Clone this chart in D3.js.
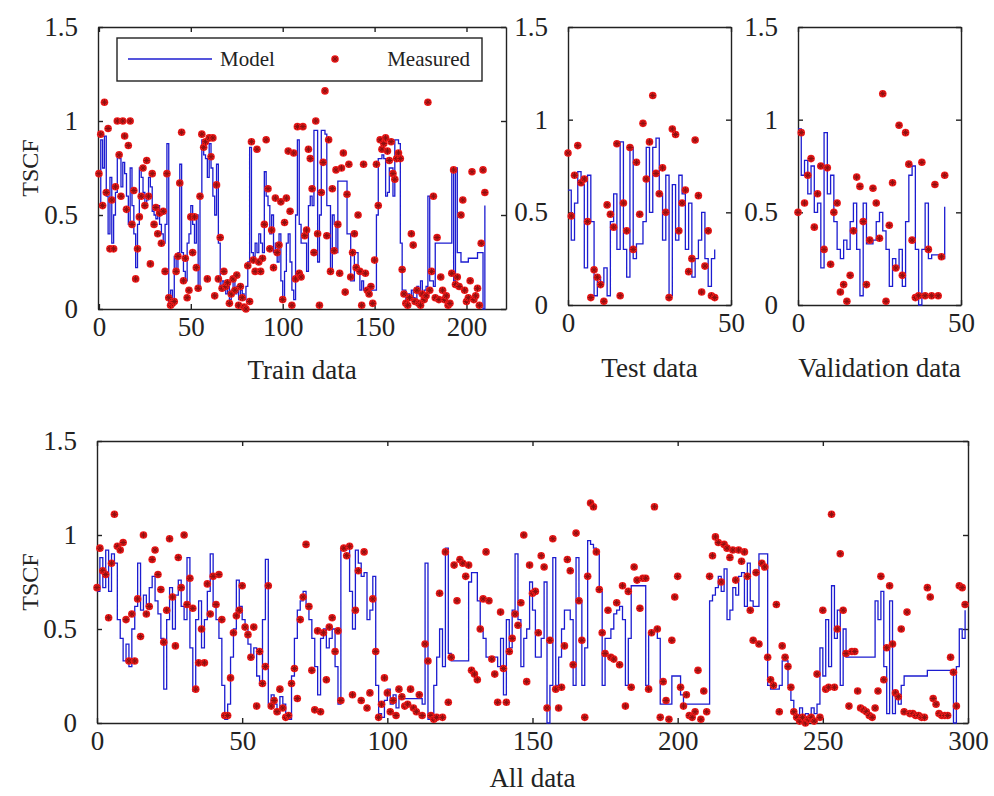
<!DOCTYPE html>
<html>
<head>
<meta charset="utf-8">
<script src="https://cdn.jsdelivr.net/npm/d3@7"></script>
<style>
  body { margin: 0; background: #fff; }
  svg { font-family: "Liberation Serif", "Times New Roman", serif; }
  .tick text { font-size: 27px; fill: #222; }
  .tick line, .domain { stroke: #222; stroke-width: 1.4px; }
</style>
</head>
<body>
<svg width="994" height="796"></svg>
<script>
// TSCF values
const trainModel = [0.55,0.90,0.75,0.92,0.60,0.40,0.70,0.35,0.50,0.62,
  0.82,0.80,0.65,0.78,0.72,0.60,0.45,0.75,0.55,0.40,
  0.22,0.45,0.75,0.70,0.62,0.55,0.58,0.70,0.65,0.52,
  0.50,0.48,0.55,0.45,0.40,0.35,0.45,0.88,0.03,0.10,
  0.05,0.28,0.20,0.30,0.77,0.30,0.20,0.15,0.35,0.40,
  0.55,0.45,0.35,0.50,0.10,0.60,0.90,0.82,0.80,0.70,
  0.88,0.75,0.60,0.50,0.77,0.35,0.10,0.15,0.12,0.08,
  0.12,0.05,0.10,0.15,0.08,0.12,0.05,0.10,0.08,0.05,
  0.12,0.25,0.86,0.30,0.28,0.35,0.30,0.40,0.35,0.30,
  0.73,0.60,0.55,0.40,0.50,0.30,0.35,0.25,0.40,0.15,
  0.05,0.20,0.35,0.40,0.25,0.10,0.05,0.50,0.90,0.45,
  0.35,0.35,0.35,0.20,0.55,0.60,0.55,0.95,0.95,0.25,
  0.50,0.95,0.95,0.93,0.55,0.55,0.20,0.50,0.45,0.30,
  0.68,0.68,0.68,0.68,0.68,0.40,0.40,0.15,0.15,0.30,
  0.30,0.20,0.10,0.15,0.10,0.10,0.10,0.10,0.10,0.10,
  0.10,0.50,0.80,0.80,0.82,0.80,0.60,0.62,0.75,0.75,
  0.60,0.90,0.90,0.88,0.35,0.10,0.10,0.05,0.08,0.05,
  0.10,0.06,0.05,0.12,0.08,0.15,0.05,0.10,0.12,0.60,
  0.15,0.15,0.12,0.35,0.35,0.35,0.35,0.35,0.35,0.35,
  0.35,0.35,0.75,0.15,0.75,0.30,0.30,0.25,0.25,0.25,
  0.25,0.27,0.27,0.27,0.27,0.27,0.30,0.30,0.30,0.00,
  0.55];
const trainMeasured = [0.72,0.93,0.55,1.10,0.62,0.96,0.32,0.58,0.32,0.65,
  1.00,0.82,0.60,1.00,0.92,0.53,0.87,1.00,0.45,0.63,
  0.16,0.32,0.49,0.60,0.75,0.55,0.79,0.60,0.24,0.72,
  0.45,0.54,0.40,0.51,0.35,0.52,0.20,0.72,0.06,0.02,
  0.03,0.04,0.20,0.28,0.67,0.94,0.15,0.27,0.06,0.10,
  0.49,0.30,0.49,0.22,0.11,0.60,0.93,0.86,0.89,0.16,
  0.91,0.81,0.91,0.07,0.66,0.16,0.38,0.11,0.20,0.12,
  0.14,0.03,0.08,0.16,0.10,0.18,0.02,0.12,0.06,0.01,
  0.00,0.23,0.04,0.89,0.26,0.20,0.85,0.25,0.20,0.27,
  0.45,0.90,0.64,0.32,0.42,0.22,0.59,0.30,0.34,0.57,
  0.05,0.46,0.59,0.84,0.52,0.02,0.83,0.16,0.97,0.19,
  0.17,0.97,0.39,0.42,0.85,0.80,0.64,0.30,1.00,0.40,
  0.02,0.62,0.78,1.16,0.39,0.90,0.20,0.64,0.31,0.74,
  0.45,0.19,0.75,0.83,0.09,0.61,0.77,0.17,0.30,0.40,
  0.22,0.50,0.20,0.02,0.77,0.19,0.10,0.08,0.12,0.03,
  0.26,0.77,0.55,0.90,0.85,0.88,0.91,0.84,0.79,0.89,
  0.72,0.69,0.80,0.83,0.80,0.21,0.08,0.03,0.02,0.06,
  0.40,0.34,0.04,0.10,0.03,0.02,0.08,0.05,0.07,1.10,
  0.10,0.20,0.60,0.06,0.38,0.05,0.17,0.10,0.05,0.07,
  0.02,0.03,0.19,0.74,0.13,0.17,0.12,0.50,0.58,0.10,
  0.04,0.06,0.15,0.73,0.05,0.07,0.11,0.02,0.35,0.74,
  0.62];

const testModel = [0.62,0.35,0.55,0.72,0.65,0.20,0.70,0.45,0.05,0.15,
  0.12,0.20,0.05,0.45,0.60,0.30,0.88,0.30,0.15,0.85,
  0.25,0.33,0.33,0.45,0.85,0.50,0.85,0.90,0.60,0.35,
  0.70,0.05,0.65,0.35,0.70,0.60,0.30,0.55,0.15,0.25,
  0.35,0.50,0.25,0.10,0.25,0.30];
const testMeasured = [0.82,0.48,0.70,0.86,0.66,0.68,0.45,0.04,0.19,0.15,
  0.11,0.02,0.54,0.49,0.42,0.87,0.05,0.55,0.40,0.85,
  0.30,0.77,0.49,0.98,0.68,0.88,1.13,0.71,0.60,0.74,
  0.50,0.04,0.95,0.92,0.40,0.55,0.62,0.18,0.25,0.89,
  0.59,0.07,0.21,0.40,0.05,0.04];

const valModel = [0.95,0.70,0.78,0.60,0.75,0.50,0.55,0.20,0.93,0.60,
  0.70,0.45,0.30,0.25,0.35,0.30,0.45,0.55,0.30,0.05,
  0.55,0.33,0.33,0.35,0.45,0.50,0.40,0.30,0.10,0.25,
  0.20,0.30,0.10,0.45,0.70,0.75,0.30,0.00,0.30,0.55,
  0.25,0.27,0.27,0.27,0.25,0.53];
const valMeasured = [0.50,0.93,0.55,0.70,0.79,0.42,0.60,0.75,0.30,0.74,
  0.22,0.50,0.55,0.07,0.11,0.02,0.16,0.40,0.69,0.64,
  0.45,0.11,0.35,0.63,0.55,0.36,1.14,0.02,0.43,0.66,
  0.20,0.97,0.16,0.93,0.76,0.35,0.04,0.05,0.77,0.05,
  0.30,0.05,0.65,0.05,0.26,0.70];

const allModel = [0.70,0.88,0.72,0.92,0.70,0.90,0.85,0.55,0.45,0.33,
  0.42,0.30,0.50,0.62,0.85,0.60,0.68,0.62,0.72,0.78,
  0.65,0.58,0.45,0.18,0.55,0.72,0.50,0.68,0.76,0.62,
  0.55,0.88,0.40,0.17,0.55,0.65,0.40,0.55,0.70,0.90,
  0.62,0.55,0.45,0.20,0.02,0.10,0.35,0.50,0.76,0.62,
  0.55,0.50,0.42,0.35,0.40,0.25,0.20,0.55,0.87,0.10,
  0.15,0.10,0.05,0.14,0.10,0.05,0.02,0.25,0.45,0.60,
  0.65,0.70,0.62,0.55,0.45,0.30,0.15,0.45,0.50,0.40,
  0.45,0.50,0.30,0.10,0.93,0.92,0.93,0.70,0.50,0.92,
  0.85,0.78,0.80,0.55,0.60,0.78,0.20,0.05,0.03,0.12,
  0.18,0.10,0.15,0.08,0.13,0.13,0.13,0.13,0.13,0.13,
  0.13,0.13,0.10,0.85,0.02,0.02,0.20,0.35,0.50,0.30,
  0.93,0.37,0.33,0.33,0.33,0.33,0.33,0.33,0.75,0.80,
  0.80,0.65,0.50,0.45,0.35,0.35,0.35,0.35,0.30,0.45,
  0.15,0.55,0.40,0.60,0.90,0.55,0.30,0.45,0.50,0.75,
  0.60,0.35,0.35,0.45,0.75,0.00,0.20,0.88,0.20,0.35,
  0.50,0.60,0.60,0.55,0.20,0.88,0.65,0.20,0.40,0.97,
  0.95,0.93,0.90,0.70,0.20,0.45,0.45,0.50,0.58,0.60,
  0.62,0.55,0.20,0.45,0.73,0.73,0.73,0.73,0.73,0.20,
  0.48,0.48,0.50,0.45,0.10,0.10,0.10,0.10,0.25,0.25,
  0.25,0.15,0.10,0.10,0.10,0.10,0.10,0.10,0.10,0.10,
  0.10,0.65,0.68,0.72,0.78,0.70,0.82,0.55,0.60,0.72,
  0.68,0.78,0.80,0.62,0.85,0.65,0.62,0.62,0.90,0.90,
  0.90,0.20,0.18,0.18,0.18,0.20,0.33,0.33,0.20,0.12,
  0.05,0.03,0.08,0.02,0.05,0.03,0.08,0.05,0.10,0.40,
  0.25,0.55,0.30,0.73,0.45,0.60,0.20,0.50,0.35,0.35,
  0.35,0.35,0.35,0.35,0.35,0.35,0.35,0.35,0.65,0.55,
  0.70,0.30,0.05,0.65,0.05,0.15,0.10,0.20,0.25,0.25,
  0.25,0.25,0.25,0.25,0.25,0.25,0.28,0.28,0.28,0.28,
  0.28,0.28,0.28,0.28,0.28,0.00,0.30,0.50,0.45,0.60];
const allMeasured = [0.72,0.93,0.81,0.79,0.56,0.85,1.11,0.94,0.92,0.96,
  0.55,0.33,0.58,0.33,0.66,0.46,1.00,0.58,0.62,0.87,
  0.92,0.79,0.71,0.43,0.60,0.98,0.67,0.41,0.88,0.72,
  1.00,0.63,0.77,0.61,0.18,0.32,0.50,0.32,0.74,0.58,
  0.78,0.63,0.79,0.55,0.04,0.04,0.24,0.48,0.57,0.60,
  0.73,0.51,0.47,0.35,0.51,0.09,0.38,0.21,0.30,0.73,
  0.09,0.12,0.06,0.18,0.08,0.03,0.04,0.21,0.29,0.13,
  0.55,0.67,0.95,0.62,0.28,0.07,0.49,0.06,0.48,0.23,
  0.51,0.56,0.38,0.49,0.12,0.93,0.89,0.94,0.15,0.60,
  0.81,0.12,0.91,0.08,0.16,0.66,0.38,0.03,0.10,0.24,
  0.16,0.06,0.12,0.04,0.18,0.14,0.09,0.10,0.18,0.08,
  0.06,0.15,0.04,0.42,0.33,0.04,0.02,0.03,0.69,0.03,
  0.91,0.11,0.35,0.84,0.65,0.87,0.85,0.78,0.84,0.28,
  0.26,0.23,0.50,0.66,0.91,0.65,0.34,0.26,0.11,0.59,
  0.29,0.11,0.38,0.45,0.58,0.52,0.64,1.00,0.22,0.84,
  0.69,0.70,0.48,0.89,0.83,0.08,0.44,0.98,0.18,0.08,
  0.19,0.41,0.87,0.81,0.31,1.01,0.65,0.44,0.03,0.78,
  1.17,1.15,0.91,0.71,0.48,0.37,0.60,0.35,0.34,0.64,
  0.31,0.73,0.09,0.70,0.19,0.83,0.76,0.61,0.77,0.77,
  0.18,0.48,1.15,0.50,0.03,0.22,0.12,0.02,0.44,0.67,
  0.78,0.19,0.09,0.15,0.04,0.03,0.06,0.28,0.02,0.17,
  0.06,0.78,0.89,0.99,0.96,0.75,0.95,0.93,0.88,0.92,
  0.76,0.92,0.86,0.91,0.78,0.60,0.44,0.80,0.42,0.85,
  0.83,0.35,0.23,0.20,0.63,0.06,0.41,0.35,0.30,0.19,
  0.06,0.03,0.01,0.03,0.00,0.02,0.03,0.01,0.26,0.03,
  0.60,0.18,0.19,1.11,0.19,0.50,0.90,0.60,0.37,0.09,
  0.38,0.38,0.17,0.08,0.07,0.06,0.04,0.03,0.08,0.17,
  0.78,0.23,0.40,0.73,0.42,0.16,0.14,0.50,0.06,0.59,
  0.05,0.05,0.04,0.04,0.03,0.03,0.72,0.67,0.13,0.10,
  0.05,0.04,0.04,0.04,0.35,0.27,0.09,0.73,0.72,0.63];

const yTicks = [0, 0.5, 1, 1.5];
const trainTicks = [0, 50, 100, 150, 200];
const smallTicks = [0, 50];
const allTicks = [0, 50, 100, 150, 200, 250, 300];

const svg = d3.select("svg");

function drawPanel(opt) {
  const x = d3.scaleLinear().domain(opt.xDomain).range([opt.left, opt.right]);
  const y = d3.scaleLinear().domain([0, 1.5]).range([opt.bottom, opt.top]);
  const g = svg.append("g");
  const fmt = d => String(d);

  // inward ticks on all four sides, like a boxed matlab axes
  g.append("g").attr("transform", `translate(0,${opt.bottom})`)
    .call(d3.axisBottom(x).tickValues(opt.xTicks).tickFormat(fmt)
      .tickSizeInner(-5).tickSizeOuter(0).tickPadding(8));
  g.append("g").attr("transform", `translate(0,${opt.top})`)
    .call(d3.axisTop(x).tickValues(opt.xTicks).tickSizeInner(-5).tickSizeOuter(0).tickFormat(""));
  g.append("g").attr("transform", `translate(${opt.left},0)`)
    .call(d3.axisLeft(y).tickValues(yTicks).tickFormat(fmt)
      .tickSizeInner(-5).tickSizeOuter(0).tickPadding(20));
  g.append("g").attr("transform", `translate(${opt.right},0)`)
    .call(d3.axisRight(y).tickValues(yTicks).tickSizeInner(-5).tickSizeOuter(0).tickFormat(""));
  g.selectAll("g").attr("font-family", null).attr("font-size", null);

  const line = d3.line()
    .x((d, i) => x(i))
    .y(d => y(d))
    .curve(d3.curveStepAfter);
  g.append("path")
    .datum(opt.model)
    .attr("fill", "none")
    .attr("stroke", "#1c1cd0")
    .attr("stroke-width", 1.3)
    .attr("d", line);

  const pts = g.append("g").selectAll("g")
    .data(opt.measured)
    .join("g")
    .attr("transform", (d, i) => `translate(${x(i)},${y(d)})`);
  drawStar(pts);

  g.append("text")
    .attr("x", (opt.left + opt.right) / 2)
    .attr("y", opt.bottom + opt.labelGap)
    .attr("text-anchor", "middle")
    .attr("font-size", 27)
    .attr("fill", "#222")
    .text(opt.xLabel);

  if (opt.yLabel) {
    g.append("text")
      .attr("transform", `translate(38,${(opt.top + opt.bottom) / 2}) rotate(-90)`)
      .attr("text-anchor", "middle")
      .attr("font-size", 24)
      .attr("fill", "#222")
      .text(opt.yLabel);
  }
  return g;
}

function drawStar(sel) {
  sel.append("circle").attr("r", 3.8).attr("fill", "#f21a1a");
  sel.append("path")
    .attr("d", "M-3,0H3M0,-3V3M-2.2,-2.2L2.2,2.2M-2.2,2.2L2.2,-2.2")
    .attr("stroke", "#8a1010")
    .attr("stroke-width", 1);
}

const trainG = drawPanel({left: 98, right: 506, top: 27, bottom: 309,
  xDomain: [-0.5, 221.5], xTicks: trainTicks,
  model: trainModel, measured: trainMeasured,
  xLabel: "Train data", yLabel: "TSCF", labelGap: 70});

drawPanel({left: 568, right: 731, top: 27, bottom: 305,
  xDomain: [0, 50], xTicks: smallTicks,
  model: testModel, measured: testMeasured, xLabel: "Test data", labelGap: 72});

drawPanel({left: 798, right: 961, top: 27, bottom: 305,
  xDomain: [0, 50], xTicks: smallTicks,
  model: valModel, measured: valMeasured, xLabel: "Validation data", labelGap: 72});

drawPanel({left: 97, right: 968, top: 441, bottom: 723,
  xDomain: [0, 300], xTicks: allTicks,
  model: allModel, measured: allMeasured, xLabel: "All data", yLabel: "TSCF", labelGap: 64});

// legend
const leg = trainG.append("g");
leg.append("rect")
  .attr("x", 117).attr("y", 38).attr("width", 365).attr("height", 43)
  .attr("fill", "#fff").attr("stroke", "#222").attr("stroke-width", 1.4);
leg.append("line")
  .attr("x1", 128).attr("x2", 212).attr("y1", 59).attr("y2", 59)
  .attr("stroke", "#1c1cd0").attr("stroke-width", 1.3);
leg.append("text").attr("x", 220).attr("y", 66)
  .attr("font-size", 21).attr("fill", "#222").text("Model");
drawStar(leg.append("g").attr("transform", "translate(335,59)"));
leg.append("text").attr("x", 470).attr("y", 66).attr("text-anchor", "end")
  .attr("font-size", 21).attr("fill", "#222").text("Measured");
</script>
</body>
</html>
